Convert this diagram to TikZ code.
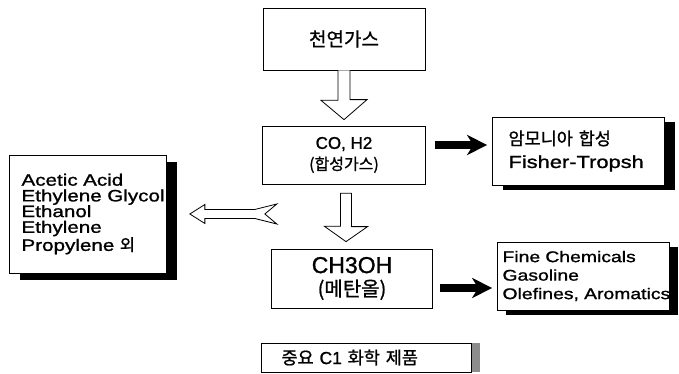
\documentclass[tikz,border=0pt]{standalone}
\usepackage{fontspec}
\setmainfont[FakeBold=1.2]{Liberation Sans}
\newfontfamily\widefont[FakeStretch=1.25,FakeBold=1.2]{Liberation Sans}
\newfontfamily\kr[FakeBold=1]{Noto Sans CJK KR}
\usetikzlibrary{arrows.meta,calc,positioning,shadows}
\tikzset{stage/.style={
        draw,
        rectangle,
        line width=0.7pt,
        inner sep=0pt,
        align=center,
    },
    sidebox/.style={
        stage,
        fill=white,
        align=left,
    },
    hollow/.style={
        draw,
        fill=white,
        line width=0.8pt,
        line join=miter,
    },
    feed/.style={
        line width=8pt,
        -{Stealth[length=20pt,width=20pt,inset=6pt]},
    }
}

\begin{document}
\begin{tikzpicture}[x=1pt,y=1pt,on grid]
  \useasboundingbox (0,0) rectangle (679,374);
  \node[stage, minimum width=162pt, minimum height=62pt, font={\kr\fontsize{19}{22}\selectfont}] (gas) at (344,335) {천연가스};
  \node[stage, minimum width=163pt, minimum height=58pt, font={\fontsize{17}{21}\selectfont}] (syngas) [below=116pt of gas] {CO, H2\\{\kr\fontsize{16}{21}\selectfont (합성가스)}};
  \node[stage, minimum width=161pt, minimum height=59pt, font={\fontsize{23}{23}\selectfont}] (methanol) [below=123.5pt of syngas, xshift=8pt] {CH3OH\\{\kr\fontsize{20}{23}\selectfont (메탄올)}};
  \node[sidebox, minimum width=157pt, minimum height=118pt, text width=133pt, drop shadow={shadow xshift=10pt,shadow yshift=-7pt,fill=black,opacity=1}, font={\widefont\fontsize{16.5}{15.7}\selectfont}] (products) [left=256pt of syngas, yshift=-59pt] {Acetic Acid\\\mbox{Ethylene Glycol}\\Ethanol\\Ethylene\\\mbox{Propylene {\kr 외}}};
  \node[sidebox, minimum width=172pt, minimum height=68pt, text width=140pt, drop shadow={shadow xshift=10pt,shadow yshift=-5pt,fill=black,opacity=1}, font={\widefont\fontsize{17.5}{23}\selectfont}] (ammonia) [right=234.5pt of syngas, yshift=4pt] {\mbox{\kr 암모니아 합성}\\\mbox{Fisher-Tropsh}};
  \node[sidebox, minimum width=172pt, minimum height=68pt, text width=162pt, drop shadow={shadow xshift=8pt,shadow yshift=-5pt,fill=black,opacity=1}, font={\widefont\fontsize{15.5}{18.5}\selectfont}] (fine) [right=231.5pt of methanol, yshift=2.5pt] {\mbox{Fine Chemicals}\\Gasoline\\\mbox{Olefines, Aromatics}};
  \node[sidebox, minimum width=210pt, minimum height=29pt, text width=170pt, drop shadow={shadow xshift=8pt,shadow yshift=0pt,fill=black!45,opacity=1}, font={\fontsize{17.5}{20}\selectfont}] (key) [below=79pt of methanol, xshift=14.5pt] {\mbox{{\kr 중요} C1 {\kr 화학 제품}}};
  \draw[hollow] ([xshift=-6pt]gas.south) -- ++(0,-30) -- ++(-17,0) -- ([yshift=6pt]syngas.north) -- ++(23,20) -- ++(-17,0) -- ([xshift=6pt]gas.south);
  \draw[hollow] ([shift={(-3.5pt,-9pt)}]syngas.south) -- ++(0,-33) -- ++(-16,0) -- ([shift={(-6pt,7pt)}]methanol.north) -- ++(21.5,15) -- ++(-16,0) -- ([shift={(7.5pt,-9pt)}]syngas.south) -- cycle;
  \draw[hollow] ([xshift=23pt]products.east) -- ++(15,9.5) -- ++(0,-5) -- ++(50,0) -- ++(22,5.5) -- ++(-12,-10) -- ++(12,-10) -- ++(-22,5.5) -- ++(-50,0) -- ++(0,-5) -- cycle;
  \draw[feed] ([shift={(9pt,10pt)}]syngas.east) -- ([shift={(-5pt,6pt)}]ammonia.west);
  \draw[feed] ([shift={(7pt,-9.5pt)}]methanol.east) -- ([shift={(-5pt,-12pt)}]fine.west);
\end{tikzpicture}
\end{document}
